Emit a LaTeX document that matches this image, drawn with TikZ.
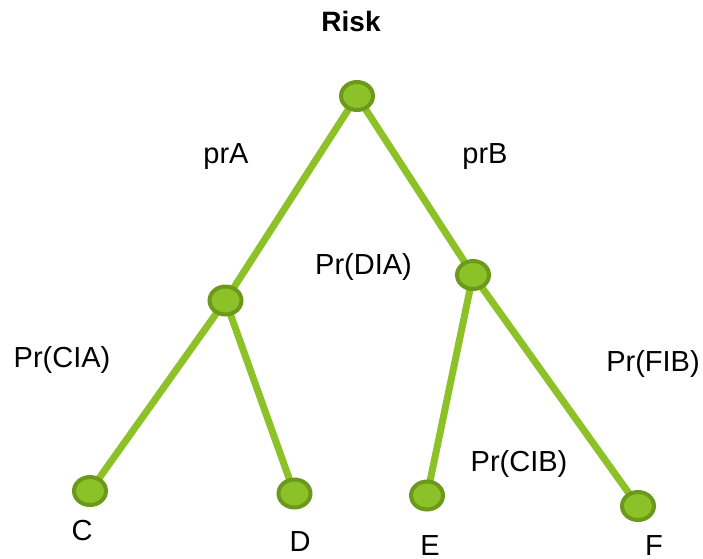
\documentclass[tikz,border=0pt]{standalone}
\usepackage{fontspec}
\setmainfont{Liberation Sans}
\usetikzlibrary{shapes.geometric,backgrounds}
\definecolor{leaf}{RGB}{141,193,40}
\definecolor{leafdark}{RGB}{108,152,28}
\begin{document}
\begin{tikzpicture}[x=1pt,y=-1pt,
  vert/.style={ellipse,draw=leafdark,fill=leaf,line width=4pt,minimum width=32pt,minimum height=28pt,inner sep=0pt},
  branch/.style={draw=leaf,line width=7pt},
  lbl/.style={font=\fontsize{29}{34}\selectfont,inner sep=0pt,anchor=base}]
\useasboundingbox (0,0) rectangle (703,558);
\node[vert] (r) at (357,96) {};
\node[vert] (a) at (225.5,300.5) {};
\node[vert] (b) at (473,275) {};
\node[vert] (c) at (90,491) {};
\node[vert] (d) at (294.5,493.5) {};
\node[vert] (e) at (427,495.5) {};
\node[vert] (f) at (638,506) {};
\begin{scope}[on background layer]
\path[branch] (r.center) -- (a.center);
\path[branch] (r.center) -- (b.center);
\path[branch] (a.center) -- (c.center);
\path[branch] (a.center) -- (d.center);
\path[branch] (b.center) -- (e.center);
\path[branch] (b.center) -- (f.center);
\end{scope}
\node[lbl,font=\fontsize{28}{33}\selectfont\bfseries] (risk) at (351,31.7) {Risk};
\node[lbl] (prA) at (226,163.5) {prA};
\node[lbl] (prB) at (485,163.5) {prB};
\node[lbl] (pda) at (363.5,274.5) {Pr(DIA)};
\node[lbl] (pca) at (62,367) {Pr(CIA)};
\node[lbl] (pfb) at (653,371) {Pr(FIB)};
\node[lbl] (pcb) at (519,471) {Pr(CIB)};
\node[lbl] (lc) at (82,540) {C};
\node[lbl] (ld) at (300,551.5) {D};
\node[lbl] (le) at (430,555) {E};
\node[lbl] (lf) at (654,555) {F};
\end{tikzpicture}
\end{document}
